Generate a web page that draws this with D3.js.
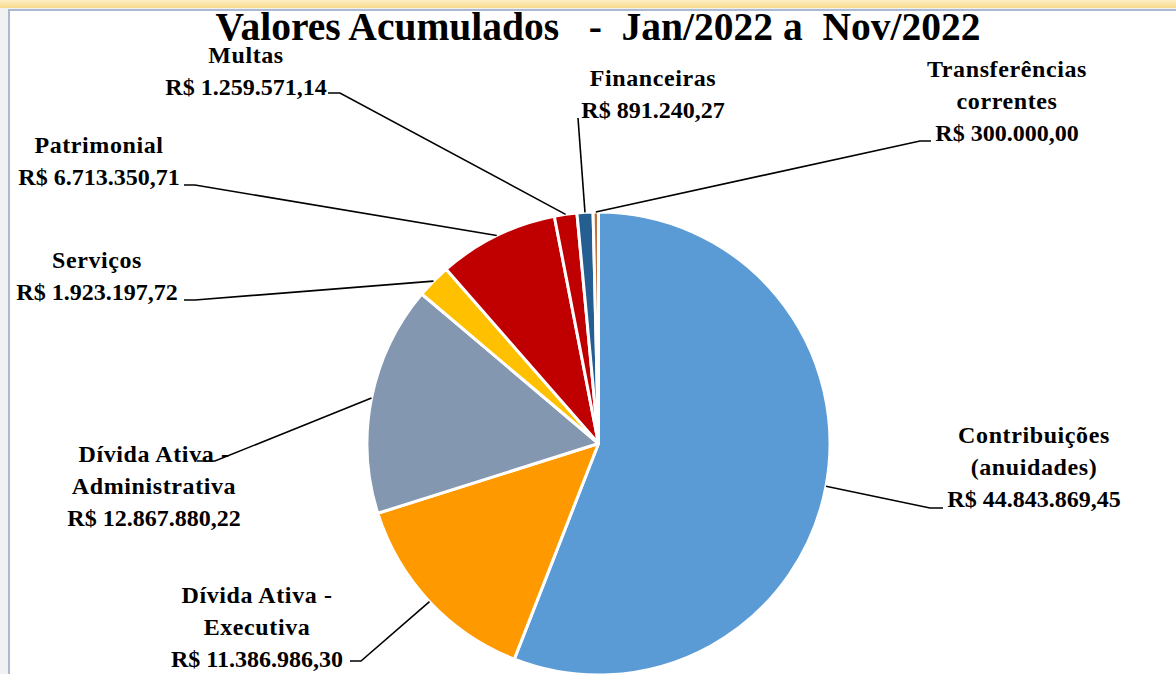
<!DOCTYPE html>
<html>
<head>
<meta charset="utf-8">
<script src="https://cdn.jsdelivr.net/npm/d3@7"></script>
<style>
  html, body { margin: 0; padding: 0; background: #f1f1f1; }
  svg { display: block; }
  svg text { font-family: 'Liberation Serif', 'DejaVu Serif', serif; font-weight: bold; fill: #000; }
</style>
</head>
<body>
<svg width="1176" height="674"></svg>
<script>
// chart values
var categories = ["Contribuições (anuidades)", "Dívida Ativa - Executiva", "Dívida Ativa - Administrativa",
                  "Serviços", "Patrimonial", "Multas", "Financeiras", "Transferências correntes"];
var values = [44843869.45, 11386986.30, 12867880.22, 1923197.72, 6713350.71, 1259571.14, 891240.27, 300000.00];
var valueLabels = ["R$ 44.843.869,45", "R$ 11.386.986,30", "R$ 12.867.880,22", "R$ 1.923.197,72",
                   "R$ 6.713.350,71", "R$ 1.259.571,14", "R$ 891.240,27", "R$ 300.000,00"];
var nameLines = [["Contribuições", "(anuidades)"], ["Dívida Ativa -", "Executiva"], ["Dívida Ativa -", "Administrativa"],
                 ["Serviços"], ["Patrimonial"], ["Multas"], ["Financeiras"], ["Transferências", "correntes"]];
var colors = ["#5b9bd5", "#ff9900", "#8497b0", "#ffc000", "#c00000", "#c00000", "#255e91", "#c0703a"];
var title = "Valores Acumulados   -  Jan/2022 a  Nov/2022";

// where each label block sits (center x, baseline of first line) and its leader elbow
var labelPos = [
  {x: 1034, y: 443, elbow: [930, 508], end: [943, 508]},
  {x: 257, y: 603, elbow: [361, 661], end: [350, 661]},
  {x: 154, y: 462, elbow: [215, 461], end: [197, 461]},
  {x: 97, y: 268, elbow: [195, 300], end: [184, 300]},
  {x: 99, y: 153, elbow: [195, 185], end: [184, 185]},
  {x: 246, y: 63, elbow: [340, 93], end: [328, 93]},
  {x: 653, y: 86, elbow: null, end: [578, 118]},
  {x: 1007, y: 77, elbow: [920, 141], end: [931, 141]}
];

var svg = d3.select("svg"),
    cx = 598.5, cy = 443.5, r = 231.5,
    lineH = 32;

// frame
var grad = svg.append("defs").append("linearGradient")
    .attr("id", "topband").attr("x1", 0).attr("x2", 0).attr("y1", 0).attr("y2", 1);
grad.append("stop").attr("offset", "0%").attr("stop-color", "#fdeec5");
grad.append("stop").attr("offset", "100%").attr("stop-color", "#f8d98a");
svg.append("rect").attr("x", 0).attr("y", 0).attr("width", 1176).attr("height", 8).attr("fill", "url(#topband)");
svg.append("rect").attr("x", 9).attr("y", 10).attr("width", 1180).attr("height", 680)
    .attr("fill", "#fff").attr("stroke", "#aab8d0").attr("stroke-width", 2);

var pie = d3.pie().sort(null).value(function(d) { return d; });
var arcs = pie(values);
var arc = d3.arc().innerRadius(0).outerRadius(r);

var g = svg.append("g").attr("transform", "translate(" + cx + "," + cy + ")");

g.selectAll("path")
    .data(arcs)
  .enter().append("path")
    .attr("d", arc)
    .attr("fill", function(d, i) { return colors[i]; })
    .attr("stroke", "#fff")
    .attr("stroke-width", 3)
    .attr("stroke-linejoin", "round");

// leader lines
svg.selectAll("path.leader")
    .data(arcs)
  .enter().append("path")
    .attr("class", "leader")
    .attr("fill", "none")
    .attr("stroke", "#000")
    .attr("stroke-width", 1.6)
    .attr("d", function(d, i) {
      var a = (d.startAngle + d.endAngle) / 2,
          p = labelPos[i],
          pts = [[cx + r * Math.sin(a), cy - r * Math.cos(a)]];
      if (p.elbow) pts.push(p.elbow);
      pts.push(p.end);
      return d3.line()(pts);
    });

// labels
var labels = svg.selectAll("text.lbl")
    .data(arcs)
  .enter().append("text")
    .attr("class", "lbl")
    .attr("text-anchor", "middle")
    .style("font-size", "24px");

labels.each(function(d, i) {
  var t = d3.select(this),
      lines = nameLines[i].concat([valueLabels[i]]);
  lines.forEach(function(s, k) {
    t.append("tspan")
        .attr("x", labelPos[i].x)
        .attr("y", labelPos[i].y + k * lineH)
        .style("letter-spacing", k < nameLines[i].length ? "0.6px" : null)
        .text(s);
  });
});

svg.append("text")
    .attr("x", 598)
    .attr("y", 40)
    .attr("text-anchor", "middle")
    .style("font-size", "39.5px")
    .style("white-space", "pre")
    .text(title);
</script>
</body>
</html>
